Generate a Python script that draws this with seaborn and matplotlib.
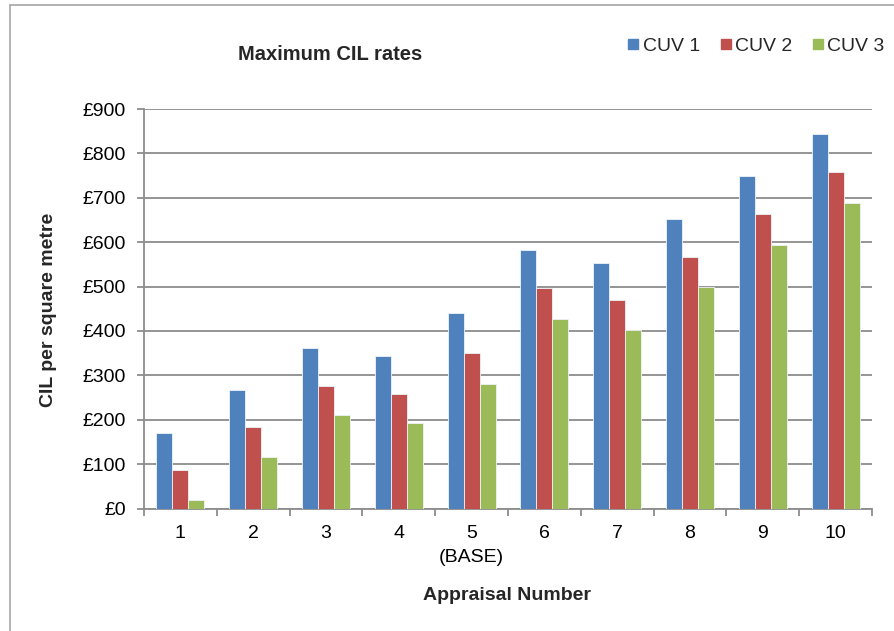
import matplotlib
matplotlib.use("Agg")
import matplotlib.pyplot as plt
import seaborn as sns
import pandas as pd
from matplotlib.lines import Line2D

categories = ["1", "2", "3", "4", "5", "6", "7", "8", "9", "10"]
tick_labels = ["1", "2", "3", "4", "5\n(BASE)", "6", "7", "8", "9", "10"]
series_names = ["CUV 1", "CUV 2", "CUV 3"]
cuv1 = [171, 267, 362, 343, 440, 582, 554, 652, 748, 844]
cuv2 = [86, 183, 277, 259, 351, 497, 470, 566, 663, 757]
cuv3 = [19, 115, 210, 192, 280, 428, 402, 498, 593, 688]
yticks = [0, 100, 200, 300, 400, 500, 600, 700, 800, 900]
colors = ["#4F81BD", "#C0504D", "#9BBB59"]

rows = []
for name, vals in zip(series_names, [cuv1, cuv2, cuv3]):
    for c, v in zip(categories, vals):
        rows.append({"Appraisal": c, "Series": name, "Value": v})
df = pd.DataFrame(rows)

sns.set_theme(style="white")
plt.rcParams["font.family"] = ["Liberation Sans", "DejaVu Sans"]

fig = plt.figure(figsize=(8.94, 6.31), dpi=100)
W, H = 894, 631
ax = fig.add_axes([144 / W, 1 - 508.5 / H, 728 / W, 399.5 / H])

sns.barplot(data=df, x="Appraisal", y="Value", hue="Series", order=categories,
            hue_order=series_names, palette=colors, saturation=1, width=0.66, ax=ax,
            edgecolor="#EEF3F8", linewidth=0.6, legend=False, zorder=3)

ax.set_ylim(0, 900)
ax.set_xlim(-0.5, 9.5)
ax.set_yticks(yticks)
ax.set_yticklabels([f"£{v}" for v in yticks])
ax.set_xticks(range(len(categories)))
ax.set_xticklabels(tick_labels, linespacing=1.5)
ax.yaxis.grid(True, color="#8C8C8C", linewidth=1.3, zorder=0)
ax.set_axisbelow(True)
for s in ["top", "right"]:
    ax.spines[s].set_visible(False)
for s in ["left", "bottom"]:
    ax.spines[s].set_color("#8C8C8C")
    ax.spines[s].set_linewidth(1.3)
ax.tick_params(axis="y", which="major", length=5, width=1.3, color="#8C8C8C",
               labelsize=14, pad=8, left=True, labelcolor="black")
ax.tick_params(axis="x", which="major", length=0, labelsize=14, pad=12, labelcolor="black")
# category boundary ticks on x axis
ax.set_xticks([i - 0.5 for i in range(len(categories) + 1)], minor=True)
ax.tick_params(axis="x", which="minor", length=5, width=1.3, color="#8C8C8C", bottom=True)

ax.set_xlabel("")
ax.set_ylabel("")
fig.text(49 / W, 1 - 310 / H, "CIL per square metre", rotation=90, ha="center",
         va="center", fontsize=14, fontweight="bold")
fig.text(507 / W, 1 - 596 / H, "Appraisal Number", ha="center", va="center",
         fontsize=14, fontweight="bold")
fig.text(330 / W, 1 - 55 / H, "Maximum CIL rates", ha="center", va="center",
         fontsize=14.5, fontweight="bold")

handles = [Line2D([0], [0], marker="s", linestyle="none", markersize=7.7,
                  markerfacecolor=c, markeredgecolor=c) for c in colors]
fig.legend(handles, series_names, loc="center left",
           bbox_to_anchor=(628 / W, 1 - 46 / H), ncol=3, frameon=False,
           fontsize=14, handlelength=0.55, handletextpad=0.2, columnspacing=1.05,
           borderaxespad=0, borderpad=0)

# chart area border
fig.add_artist(Line2D([10 / W, 10 / W], [0, 1 - 5 / H], transform=fig.transFigure,
                      color="#A6A6A6", linewidth=1.2))
fig.add_artist(Line2D([10 / W, 1], [1 - 5 / H, 1 - 5 / H], transform=fig.transFigure,
                      color="#A6A6A6", linewidth=1.2))

fig.savefig("out.png", dpi=100)
